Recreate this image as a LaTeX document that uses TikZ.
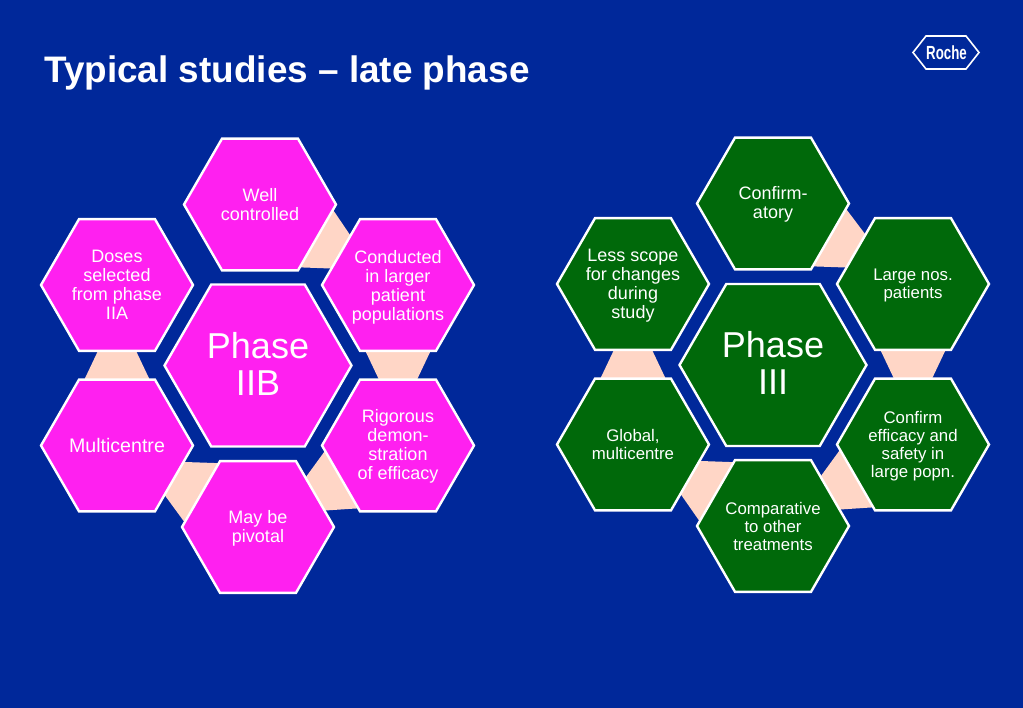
\documentclass[tikz,border=0pt]{standalone}
\usepackage{fontspec}
\setmainfont{Liberation Sans}
\usepackage{tikz}
\usetikzlibrary{calc,shapes.geometric}
\definecolor{slideblue}{HTML}{00289A}
\definecolor{hexpink}{HTML}{FF20F0}
\definecolor{hexgreen}{HTML}{00690A}
\definecolor{linkpeach}{HTML}{FFD6C6}
\pgfdeclarelayer{slide}
\pgfdeclarelayer{links}
\pgfsetlayers{slide,links,main}
\newcommand{\hexlink}[8]{%
  \fill[linkpeach] ($(#1.#2)!#7!(#1.#3)$) -- ($(#1.#2)!#8!(#1.#3)$)
    -- ($(#4.#5)!.75!(#4.#6)$) -- ($(#4.#5)!.25!(#4.#6)$) -- cycle;}

\begin{document}
\begin{tikzpicture}[
  x=1pt, y=-1pt,
  hex/.style={regular polygon, regular polygon sides=6, draw=white, line width=2.4pt,
    text=white, align=center, inner xsep=-25pt, inner ysep=0pt, outer sep=0pt, minimum size=152pt,
    font=\fontsize{18}{19}\selectfont},
  hexbig/.style={hex, minimum size=187pt, text depth=4pt, font=\fontsize{36}{37}\selectfont},
  pink/.style={fill=hexpink},
  leaf/.style={fill=hexgreen},
  smalltext/.style={font=\fontsize{16.8}{18}\selectfont}
]
\begin{pgfonlayer}{slide}
\fill[slideblue] (0,0) rectangle (1023,708);
\end{pgfonlayer}

\node[anchor=west, text=white, font=\fontsize{36.9}{40}\selectfont\bfseries, inner sep=0pt] (title) at (44,72.5) {Typical studies – late phase};

\node[hexbig, pink] (phaseb) at (258,365.5) {Phase\\IIB};
\node[hex, pink] (well) at (260,204.5) {Well\\controlled};
\node[hex, pink, text depth=-.2pt] (larger) at (398,285) {Conducted\\in larger\\patient\\populations};
\node[hex, pink, text depth=1.8pt] (rigor) at (398,445.5) {Rigorous\\demon-\\stration\\of efficacy};
\node[hex, pink, text depth=1.8pt] (pivot) at (258,527) {May be\\pivotal};
\node[hex, pink, font=\fontsize{19.6}{21}\selectfont] (multi) at (117,445.5) {Multicentre};
\node[hex, pink] (doses) at (117,285) {Doses\\selected\\from phase\\IIA};

\node[hexbig, leaf] (phasec) at (773,365) {Phase\\III};
\node[hex, leaf, text depth=1.5pt] (confirm) at (773,203.5) {Confirm-\\atory};
\node[hex, leaf, smalltext, text depth=-4pt] (nos) at (913,284) {Large nos.\\patients};
\node[hex, leaf, smalltext, text depth=-.5pt] (safety) at (913,444.5) {Confirm\\efficacy and\\safety in\\large popn.};
\node[hex, leaf, smalltext] (compare) at (773,526) {Comparative\\to other\\treatments};
\node[hex, leaf, smalltext] (global) at (633,444.5) {Global,\\multicentre};
\node[hex, leaf, text depth=-1.2pt] (scope) at (633,284) {Less scope\\for changes\\during\\study};

\begin{pgfonlayer}{links}
\hexlink{well}{0}{300}{larger}{120}{180}{.08}{.955}
\hexlink{larger}{240}{300}{rigor}{120}{60}{.07}{.93}
\hexlink{rigor}{180}{240}{pivot}{60}{0}{.08}{.955}
\hexlink{pivot}{120}{180}{multi}{0}{300}{.03}{.93}
\hexlink{multi}{120}{60}{doses}{240}{300}{.07}{.93}
\hexlink{confirm}{0}{300}{nos}{120}{180}{.08}{.955}
\hexlink{nos}{240}{300}{safety}{120}{60}{.07}{.93}
\hexlink{safety}{180}{240}{compare}{60}{0}{.08}{.955}
\hexlink{compare}{120}{180}{global}{0}{300}{.03}{.93}
\hexlink{global}{120}{60}{scope}{240}{300}{.07}{.93}
\end{pgfonlayer}

\node[text=white, font=\fontsize{19}{20}\selectfont\bfseries, xscale=.7, inner sep=0pt] (roche) at (946.5,52.5) {Roche};
\draw[white, line width=1.6pt, line join=miter] (913,52.5) -- (926,36) -- (966,36) -- (979,52.5) -- (966,69) -- (926,69) -- cycle;
\end{tikzpicture}
\end{document}
